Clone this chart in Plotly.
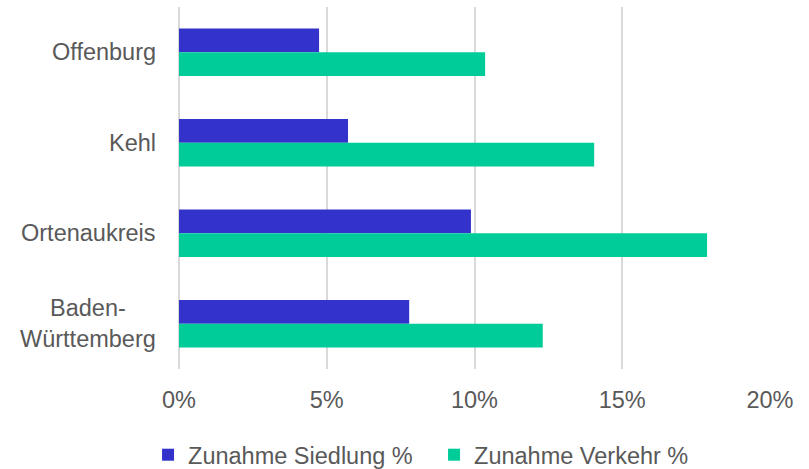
import plotly.graph_objects as go

categories = ["Offenburg", "Kehl", "Ortenaukreis", "Baden-<br>Württemberg"]
siedlung = [4.74, 5.72, 9.88, 7.79]
verkehr = [10.36, 14.05, 17.87, 12.31]
series_names = ["Zunahme Siedlung %", "Zunahme Verkehr %"]
x_ticks = [0, 5, 10, 15, 20]
x_tick_labels = [f"{v}%" for v in x_ticks]

FONT = "Liberation Sans, Arial, sans-serif"
GREY = "#595959"
FS = 23.5

fig = go.Figure()
fig.add_trace(go.Bar(y=categories, x=siedlung, orientation="h", name=series_names[0],
                     marker=dict(color="#3333CC", line=dict(width=0))))
fig.add_trace(go.Bar(y=categories, x=verkehr, orientation="h", name=series_names[1],
                     marker=dict(color="#00CC99", line=dict(width=0))))

annotations = []
for c in categories:
    annotations.append(dict(text=c, x=0, xref="paper", y=c, yref="y", xanchor="right",
                            xshift=-21, align="center", showarrow=False,
                            font=dict(family=FONT, size=FS, color=GREY)))

fig.update_layout(
    width=809, height=469,
    margin=dict(l=178.5, r=39, t=7, b=100),
    paper_bgcolor="white", plot_bgcolor="white",
    barmode="group", bargap=0.476, bargroupgap=0,
    font=dict(family=FONT, size=FS, color=GREY),
    xaxis=dict(range=[0, 20], tickmode="array", tickvals=x_ticks, ticktext=x_tick_labels,
               showgrid=True, gridcolor="#d9d9d9", gridwidth=1.5, zeroline=True,
               zerolinecolor="#d9d9d9", zerolinewidth=1.5, showline=False, ticks="",
               ticklabelstandoff=14, tickfont=dict(family=FONT, size=FS, color=GREY)),
    yaxis=dict(autorange="reversed", showticklabels=False, showgrid=False, zeroline=False,
               showline=False, ticks=""),
    legend=dict(orientation="h", xref="container", yref="container", x=0.183, xanchor="left",
                y=0.03, yanchor="middle", font=dict(family=FONT, size=FS, color=GREY),
                traceorder="normal", itemwidth=30, entrywidth=241, entrywidthmode="pixels"),
    annotations=annotations,
)

fig.write_html("out.html", config={"displayModeBar": False},
               post_script="document.body.style.margin='0';")
